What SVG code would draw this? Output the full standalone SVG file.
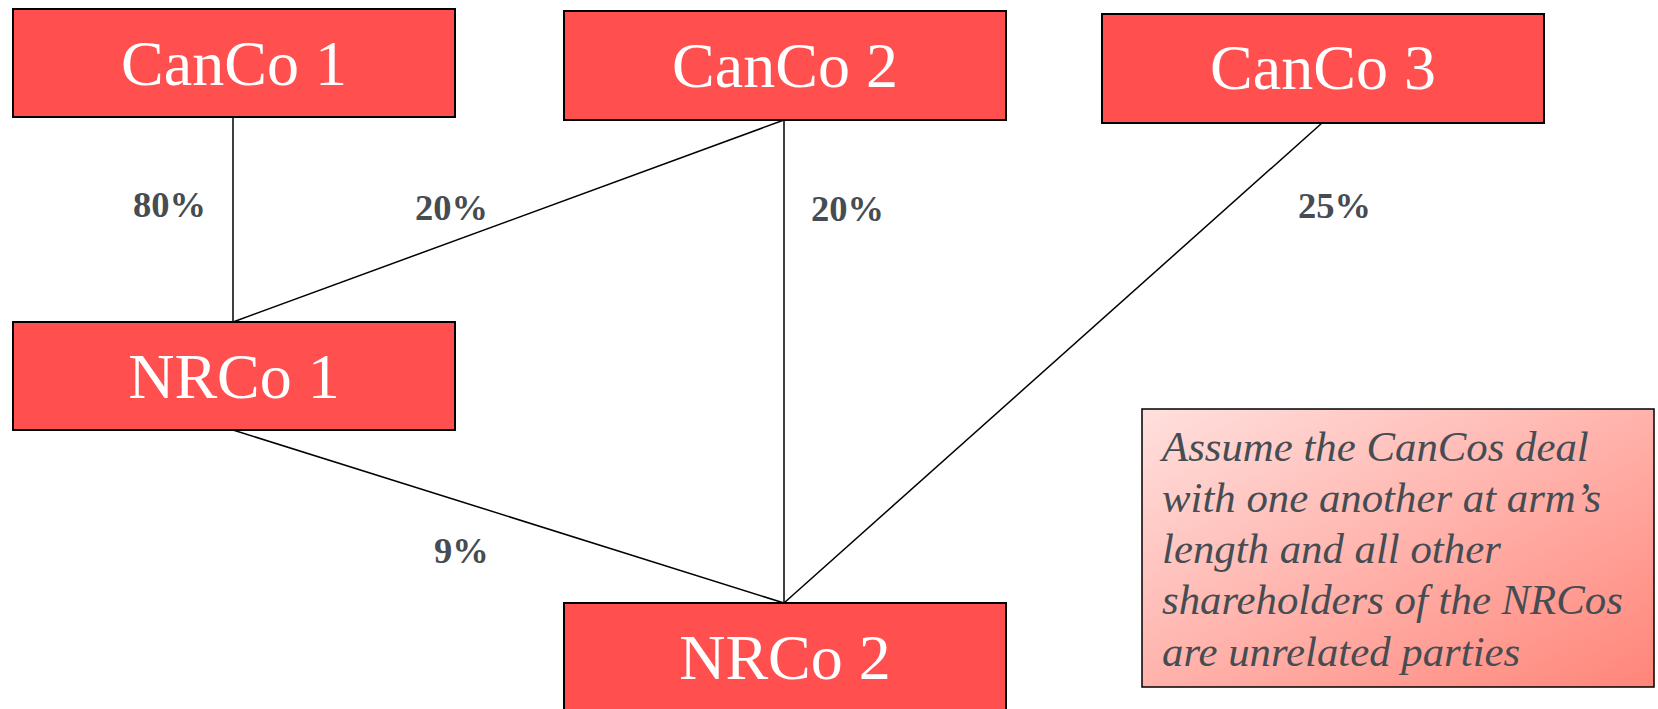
<svg xmlns="http://www.w3.org/2000/svg" width="1658" height="709" viewBox="0 0 1658 709">
<style>
.box{fill:#FF4F4F;stroke:#000;stroke-width:2}
.nt{font-family:"Liberation Serif","Times New Roman",serif;font-size:64px;fill:#fff;text-anchor:middle}
.pc{font-family:"Liberation Serif","Times New Roman",serif;font-size:36.5px;font-weight:bold;fill:#464C52}
.conn line{stroke:#000;stroke-width:1.5}
.note{font-family:"Liberation Serif","Times New Roman",serif;font-size:42.8px;font-style:italic;fill:#464C52}
</style>
<defs>
<linearGradient id="ng" x1="0" y1="0" x2="1" y2="1">
<stop offset="0" stop-color="#FFE0DE"/>
<stop offset="1" stop-color="#FF8579"/>
</linearGradient>
</defs>
<rect width="1658" height="709" fill="#fff"/>
<g class="conn" id="connectors">
<line x1="233" y1="117" x2="233" y2="322"/>
<line x1="784" y1="120" x2="233" y2="322"/>
<line x1="784" y1="120" x2="784" y2="603"/>
<line x1="1322" y1="123" x2="784" y2="603"/>
<line x1="233" y1="430" x2="784" y2="603"/>
</g>
<g id="labels">
<text class="pc" x="133" y="217">80%</text>
<text class="pc" x="415" y="220">20%</text>
<text class="pc" x="811" y="221">20%</text>
<text class="pc" x="1298" y="218">25%</text>
<text class="pc" x="434" y="563">9%</text>
</g>
<g id="canco1"><rect class="box" x="13" y="9" width="442" height="108"/><text class="nt" x="234" y="85">CanCo 1</text></g>
<g id="canco2"><rect class="box" x="564" y="11" width="442" height="109"/><text class="nt" x="785" y="87">CanCo 2</text></g>
<g id="canco3"><rect class="box" x="1102" y="14" width="442" height="109"/><text class="nt" x="1323" y="89">CanCo 3</text></g>
<g id="nrco1"><rect class="box" x="13" y="322" width="442" height="108"/><text class="nt" x="234" y="398">NRCo 1</text></g>
<g id="nrco2"><rect class="box" x="564" y="603" width="442" height="120"/><text class="nt" x="785" y="679">NRCo 2</text></g>
<g id="note">
<rect x="1142" y="409" width="512" height="278" fill="url(#ng)" stroke="#000" stroke-width="1.5"/>
<text class="note" x="1162" y="461">Assume the CanCos deal</text>
<text class="note" x="1162" y="512">with one another at arm’s</text>
<text class="note" x="1162" y="563">length and all other</text>
<text class="note" x="1162" y="614">shareholders of the NRCos</text>
<text class="note" x="1162" y="666">are unrelated parties</text>
</g>
</svg>
